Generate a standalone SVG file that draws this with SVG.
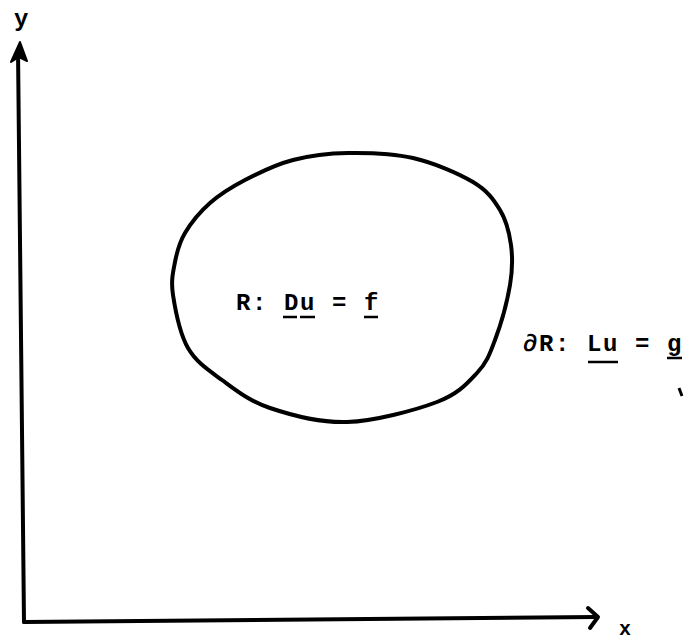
<svg xmlns="http://www.w3.org/2000/svg" width="685" height="641" viewBox="0 0 685 641">
<style>
.ln{fill:none;stroke:#000;stroke-width:4;stroke-linecap:round;stroke-linejoin:round}
.ul{fill:none;stroke:#000;stroke-width:2.5}
.t{font-family:"Liberation Mono","DejaVu Sans Mono",monospace;font-size:24px;font-weight:bold;fill:#000;letter-spacing:1.6px}
</style>
<rect width="685" height="641" fill="#fff"/>
<g id="axes">
<path class="ln" d="M24,622 L18,50"/>
<path d="M20,42 L11,62 L19,57 L27,61 Z" fill="#000" stroke="#000" stroke-width="2" stroke-linejoin="round"/>
<path class="ln" d="M24,622 L596,617"/>
<path class="ln" d="M588,608 L598,617 L590,628"/>
<text class="t" x="14" y="26">y</text>
<text class="t" x="619" y="635" style="font-size:20px">x</text>
</g>
<g id="region">
<path class="ln" d="M348,153 C368,152.7 392.2,153.2 413,158 C433.8,162.8 458.5,173.3 473,182 C487.5,190.7 493.7,199.5 500,210 C506.3,220.5 509.3,232.5 511,245 C512.7,257.5 512.7,269.2 510,285 C507.3,300.8 500.5,325.3 495,340 C489.5,354.7 486.7,362.7 477,373 C467.3,383.3 458.7,393.8 437,402 C415.3,410.2 374.8,421 347,422 C319.2,423 290.8,415 270,408 C249.2,401 235.7,390 222,380 C208.3,370 196.2,362.2 188,348 C179.8,333.8 175.2,309.3 173,295 C170.8,280.7 173,272.3 175,262 C177,251.7 179.2,242.8 185,233 C190.8,223.2 200,211.8 210,203 C220,194.2 231.2,187.2 245,180 C258.8,172.8 275.8,164.5 293,160 C310.2,155.5 328,153.3 348,153 Z"/>
<text class="t" x="236" y="310">R: Du = f</text>
<path class="ul" d="M283,317 H297 M300,317 H315 M364,317 H378"/>
</g>
<g id="boundary">
<text class="t" x="523" y="351">∂R: Lu = g</text>
<path class="ul" d="M588,362 H618 M667,358 H682"/>
<path d="M679,388 L682,396" stroke="#000" stroke-width="3"/>
</g>
</svg>
